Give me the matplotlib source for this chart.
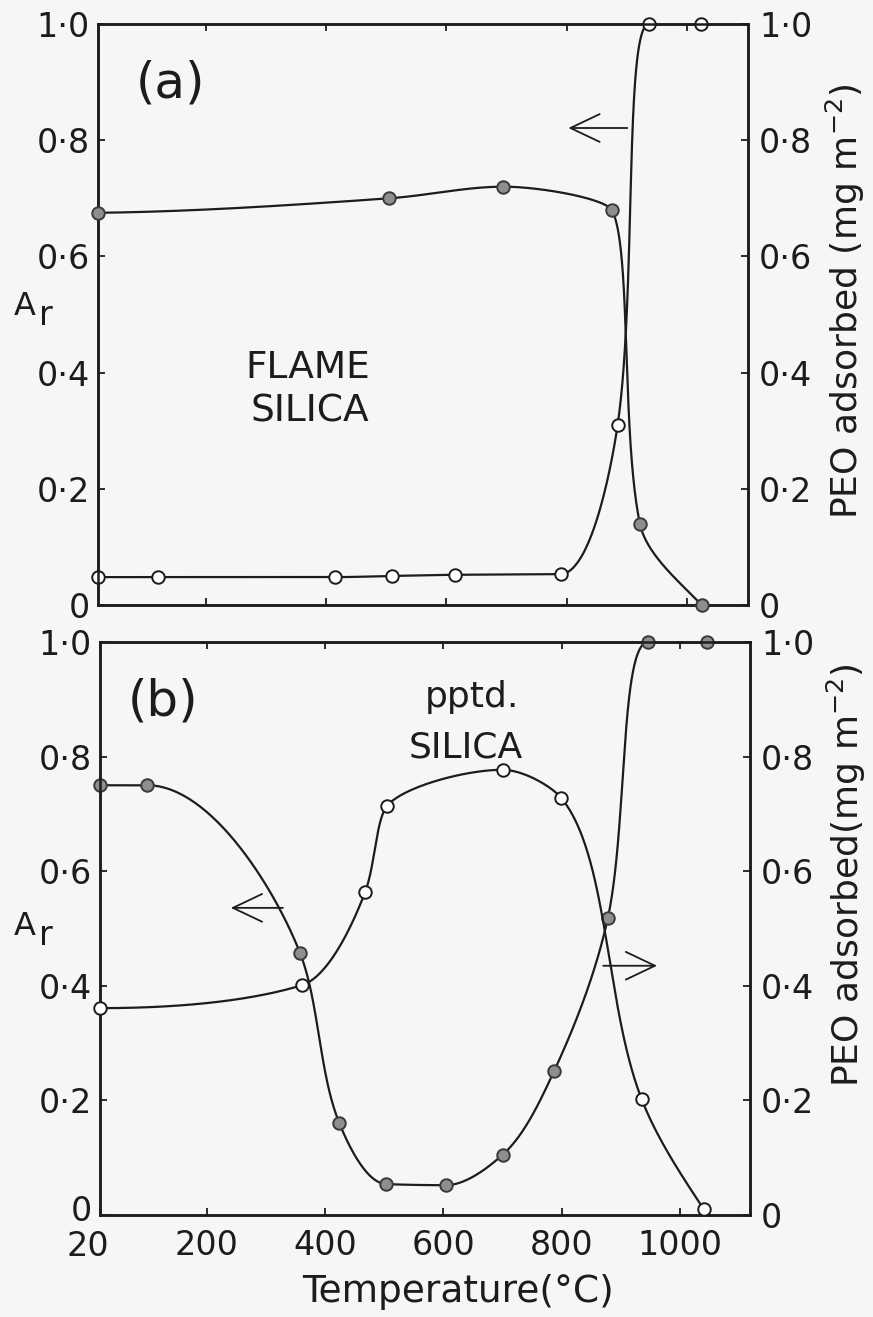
import numpy as np
import matplotlib
matplotlib.use("Agg")
import matplotlib.pyplot as plt

# ---- data -------------------------------------------------------------
# (a) flame silica
temp_flame_ar = [20, 120, 415, 510, 615, 790, 885, 937, 1024]
ar_flame = [0.048, 0.048, 0.048, 0.050, 0.052, 0.053, 0.31, 1.0, 1.0]
temp_flame_peo = [20, 505, 695, 875, 922, 1025]
peo_flame = [0.675, 0.70, 0.72, 0.68, 0.14, 0.0]

# (b) precipitated silica
temp_pptd_ar = [20, 100, 358, 424, 503, 604, 700, 787, 878, 946, 1045]
ar_pptd = [0.75, 0.75, 0.457, 0.161, 0.054, 0.052, 0.105, 0.251, 0.519, 1.0, 1.0]
temp_pptd_peo = [20, 361, 468, 505, 700, 799, 935, 1040]
peo_pptd = [0.361, 0.401, 0.564, 0.714, 0.777, 0.728, 0.202, 0.01]

y_ticks = [0, 0.2, 0.4, 0.6, 0.8, 1.0]
y_ticklabels = ["0", "0·2", "0·4", "0·6", "0·8", "1·0"]
x_ticks = [20, 200, 400, 600, 800, 1000]
x_ticklabels = ["20", "200", "400", "600", "800", "1000"]

INK = "#1c1c1c"
PAPER = "#f6f6f4"
GREY = "#8e8e8e"

plt.rcParams["font.family"] = ["DejaVu Sans"]
plt.rcParams["text.color"] = INK
plt.rcParams["axes.edgecolor"] = INK
plt.rcParams["xtick.color"] = INK
plt.rcParams["ytick.color"] = INK

FW, FH = 873, 1317
fig = plt.figure(figsize=(FW / 100, FH / 100), dpi=100, facecolor=PAPER)


# ---- monotone cubic smoothing (parametric, in screen proportions) ----
def _pchip_slopes(x, y):
    h = np.diff(x)
    d = np.diff(y) / h
    n = len(x)
    m = np.zeros(n)
    if n == 2:
        m[:] = d[0]
        return m
    for k in range(1, n - 1):
        if d[k - 1] * d[k] > 0:
            w1 = 2 * h[k] + h[k - 1]
            w2 = h[k] + 2 * h[k - 1]
            m[k] = (w1 + w2) / (w1 / d[k - 1] + w2 / d[k])

    def edge(h0, h1, d0, d1):
        mm = ((2 * h0 + h1) * d0 - h0 * d1) / (h0 + h1)
        if np.sign(mm) != np.sign(d0):
            return 0.0
        if np.sign(d0) != np.sign(d1) and abs(mm) > abs(3 * d0):
            return 3 * d0
        return mm

    m[0] = edge(h[0], h[1], d[0], d[1])
    m[-1] = edge(h[-1], h[-2], d[-1], d[-2])
    return m


def _pchip(x, y, xq):
    x = np.asarray(x, float)
    y = np.asarray(y, float)
    m = _pchip_slopes(x, y)
    i = np.clip(np.searchsorted(x, xq, side="right") - 1, 0, len(x) - 2)
    h = x[i + 1] - x[i]
    t = (xq - x[i]) / h
    h00 = 2 * t**3 - 3 * t**2 + 1
    h10 = t**3 - 2 * t**2 + t
    h01 = -2 * t**3 + 3 * t**2
    h11 = t**3 - t**2
    return h00 * y[i] + h10 * h * m[i] + h01 * y[i + 1] + h11 * h * m[i + 1]


def smooth_curve(ax, xs, ys, n=800):
    xs = np.asarray(xs, float)
    ys = np.asarray(ys, float)
    x0, x1 = ax.get_xlim()
    y0, y1 = ax.get_ylim()
    pos = ax.get_position()
    W, H = pos.width * FW, pos.height * FH
    X = (xs - x0) / (x1 - x0) * W
    Y = (ys - y0) / (y1 - y0) * H
    s = np.concatenate([[0.0], np.cumsum(np.hypot(np.diff(X), np.diff(Y)))])
    ss = np.linspace(0, s[-1], n)
    Xs = _pchip(s, X, ss)
    Ys = _pchip(s, Y, ss)
    return x0 + Xs / W * (x1 - x0), y0 + Ys / H * (y1 - y0)


def draw_series(ax, xs, ys, filled):
    cx, cy = smooth_curve(ax, xs, ys)
    ax.plot(cx, cy, color=INK, lw=1.6, solid_capstyle="round", zorder=2)
    ax.plot(xs, ys, ls="none", marker="o", ms=9,
            mfc=GREY if filled else "white",
            mec="#3a3a3a" if filled else INK, mew=1.4,
            clip_on=False, zorder=3)


def style_axes(ax, ax2, xlim, xticks, xlabels, ylabels_left):
    for a in (ax, ax2):
        a.set_xlim(*xlim)
        a.set_ylim(0, 1.0)
        for sp in a.spines.values():
            sp.set_linewidth(1.8)
    ax.set_facecolor(PAPER)
    ax.set_xticks(xticks)
    if xlabels is not None:
        ax.set_xticklabels(xlabels)
    ax.set_yticks(y_ticks)
    ax.set_yticklabels(ylabels_left)
    ax2.set_yticks(y_ticks)
    ax2.set_yticklabels(y_ticklabels)
    ax.tick_params(axis="x", direction="in", length=5, width=1.3,
                   top=True, bottom=True, labelsize=24, pad=10,
                   labelbottom=xlabels is not None)
    ax.tick_params(axis="y", direction="in", length=5, width=1.3,
                   left=True, right=False, labelsize=24, pad=6)
    ax2.tick_params(axis="y", direction="in", length=5, width=1.3,
                    right=True, left=False, labelsize=24, pad=8)


def px(x, y):
    return x / FW, 1 - y / FH


def arrow(ax, tail, tip):
    ax.annotate("", xy=tip, xytext=tail, xycoords="data",
                arrowprops=dict(arrowstyle="->,head_length=2.1,head_width=1.0",
                                mutation_scale=10, lw=1.3, color=INK,
                                shrinkA=0, shrinkB=0),
                zorder=4)


# ---- panel (a) --------------------------------------------------------
axa = fig.add_axes([98 / FW, 1 - 605 / FH, 650 / FW, 581 / FH])
axa2 = axa.twinx()
style_axes(axa, axa2, (20, 1102), x_ticks[1:], None, y_ticklabels)
draw_series(axa, temp_flame_ar, ar_flame, filled=False)
draw_series(axa2, temp_flame_peo, peo_flame, filled=True)
arrow(axa, (901, 0.821), (803, 0.821))

axa.text(0.111, 0.898, "(a)", transform=axa.transAxes, fontsize=36,
         ha="center", va="center")
axa.text(0.323, 0.391, "FLAME", transform=axa.transAxes, fontsize=27,
         ha="center", va="baseline")
axa.text(0.326, 0.315, "SILICA", transform=axa.transAxes, fontsize=27,
         ha="center", va="baseline")

# ---- panel (b) --------------------------------------------------------
axb = fig.add_axes([100 / FW, 1 - 1215 / FH, 650 / FW, 573 / FH])
axb2 = axb.twinx()
# the corner labels "20" and "0" are set by hand below so they stack
style_axes(axb, axb2, (20, 1118), x_ticks, [""] + x_ticklabels[1:],
           [""] + y_ticklabels[1:])
axb.annotate(x_ticklabels[0], xy=(x_ticks[0], 0),
             xycoords=("data", "axes fraction"),
             xytext=(-8.5, -10.5), textcoords="offset points",
             fontsize=24, ha="center", va="top")
axb.annotate(y_ticklabels[0], xy=(0, y_ticks[0]),
             xycoords=("axes fraction", "data"),
             xytext=(-6, -4.5), textcoords="offset points",
             fontsize=24, ha="right", va="baseline")

draw_series(axb, temp_pptd_ar, ar_pptd, filled=True)
draw_series(axb2, temp_pptd_peo, peo_pptd, filled=False)
arrow(axb, (329, 0.536), (241, 0.536))
arrow(axb, (870, 0.435), (961, 0.435))

axb.text(0.097, 0.897, "(b)", transform=axb.transAxes, fontsize=36,
         ha="center", va="center")
axb.text(0.572, 0.887, "pptd.", transform=axb.transAxes, fontsize=26,
         ha="center", va="baseline")
axb.text(0.562, 0.798, "SILICA", transform=axb.transAxes, fontsize=26,
         ha="center", va="baseline")

# ---- axis titles -------------------------------------------------------
for base_y in (315, 935):
    fig.text(*px(14, base_y), "A", fontsize=23, ha="left", va="baseline")
    fig.text(*px(39, base_y + 10), "r", fontsize=24, ha="left", va="baseline")

fig.text(*px(845, 301), "PEO adsorbed (mg m$^{-2}$)", fontsize=26,
         rotation=90, ha="center", va="center")
fig.text(*px(846, 875), "PEO adsorbed(mg m$^{-2}$)", fontsize=26,
         rotation=90, ha="center", va="center")
fig.text(*px(458, 1292), "Temperature(°C)", fontsize=27,
         ha="center", va="center")

fig.savefig("out.png", dpi=100, facecolor=PAPER)
